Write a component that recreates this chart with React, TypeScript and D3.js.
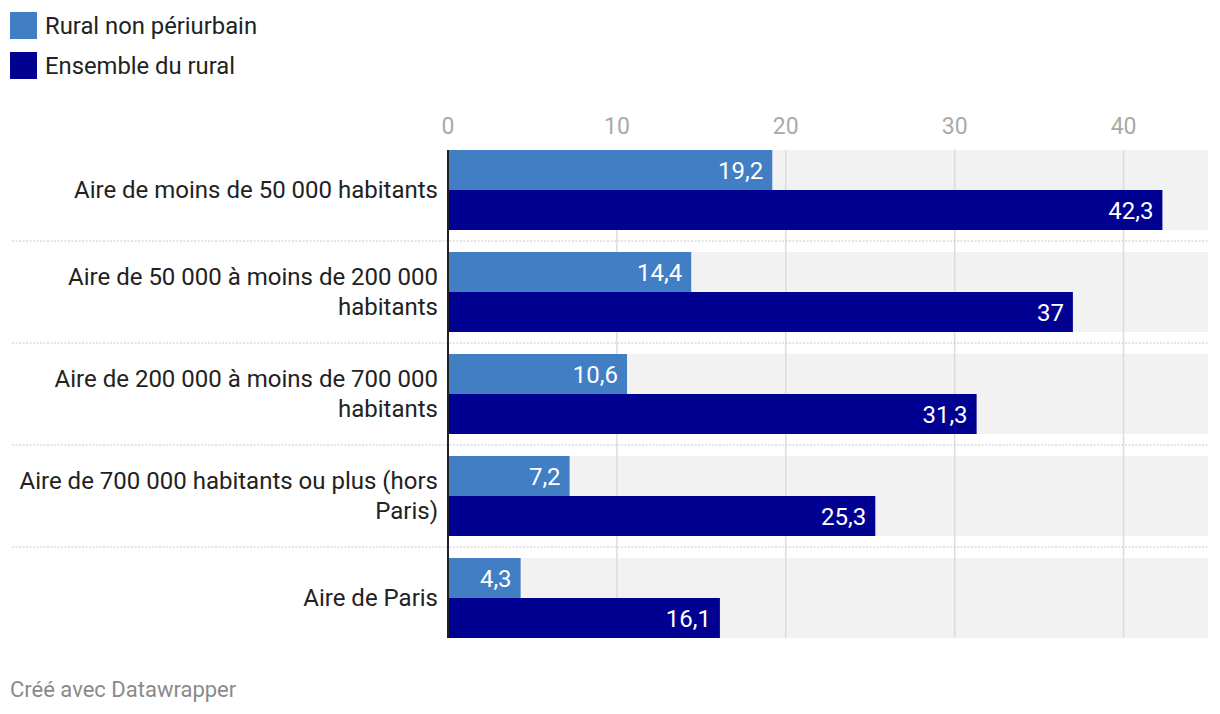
import React from "react";
import * as d3 from "d3";

const categories = [
  "Aire de moins de 50 000 habitants",
  "Aire de 50 000 à moins de 200 000\nhabitants",
  "Aire de 200 000 à moins de 700 000\nhabitants",
  "Aire de 700 000 habitants ou plus (hors\nParis)",
  "Aire de Paris",
];
const seriesNames = ["Rural non périurbain", "Ensemble du rural"];
const ruralNonPeriurbain = [19.2, 14.4, 10.6, 7.2, 4.3];
const ensembleRural = [42.3, 37, 31.3, 25.3, 16.1];
const ticks = [0, 10, 20, 30, 40];
const colors = ["#417ec4", "#000091"];

const W = 1220;
const H = 714;
const FONT = "Roboto, 'Noto Sans', sans-serif";

export default function App() {
  const x = d3.scaleLinear().domain([0, 45]).range([448, 1208]);
  const rowY = (i: number) => 150 + i * 102;
  const bandH = 80;
  const sub = d3.scaleBand<number>().domain([0, 1]).range([0, bandH]);
  const series = [ruralNonPeriurbain, ensembleRural];
  const fmt = (v: number) => d3.format(",")(v).replace(".", ",");
  const top = rowY(0);
  const bottom = rowY(categories.length - 1) + bandH;

  return (
    <svg width={W} height={H} style={{ display: "block", position: "absolute", left: 0, top: 0 }} fontFamily={FONT}>
      <rect width={W} height={H} fill="#fff" />
      {/* legend */}
      {seriesNames.map((n, i) => (
        <g key={n}>
          <rect x={10} y={12 + i * 40} width={27} height={27} fill={colors[i]} />
          <text x={45} y={34 + i * 40} fontSize={23.8} fill="#222">{n}</text>
        </g>
      ))}
      {/* backgrounds */}
      {categories.map((c, i) => (
        <rect key={"bg" + i} x={x(0)} y={rowY(i)} width={x(45) - x(0)} height={bandH} fill="#f2f2f2" />
      ))}
      {/* grid */}
      {ticks.filter((t) => t > 0).map((t) => (
        <line key={"g" + t} x1={x(t)} x2={x(t)} y1={top} y2={bottom} stroke="#dcdcdc" strokeWidth={1.5} />
      ))}
      {/* tick labels */}
      {ticks.map((t) => (
        <text key={"t" + t} x={x(t)} y={134} fontSize={23} fill="#aaaaaa" textAnchor="middle">{t}</text>
      ))}
      {/* separators */}
      {categories.slice(1).map((c, i) => (
        <line key={"s" + i} x1={12} x2={1208} y1={rowY(i + 1) - 11} y2={rowY(i + 1) - 11} stroke="#c8c8c8" strokeWidth={1} strokeDasharray="2,1.5" />
      ))}
      {/* bars */}
      {categories.map((c, i) => (
        <g key={"b" + i}>
          {series.map((s, j) => {
            const y0 = rowY(i) + (sub(j) as number);
            const h = sub.bandwidth();
            return (
              <g key={j}>
                <rect x={x(0)} y={y0} width={x(s[i]) - x(0)} height={h} fill={colors[j]} />
                <text x={x(s[i]) - 9} y={y0 + h / 2 + 8.5} fontSize={24} fill="#fff" textAnchor="end">{fmt(s[i])}</text>
              </g>
            );
          })}
        </g>
      ))}
      {/* category labels */}
      {categories.map((c, i) => {
        const lines = c.split("\n");
        const cy = rowY(i) + bandH / 2;
        const lh = 30;
        const start = cy + 8 - ((lines.length - 1) * lh) / 2;
        return (
          <text key={"c" + i} x={438} fontSize={24} fill="#222" textAnchor="end">
            {lines.map((l, k) => (
              <tspan key={k} x={438} y={start + k * lh}>{l}</tspan>
            ))}
          </text>
        );
      })}
      {/* baseline */}
      <line x1={x(0)} x2={x(0)} y1={top} y2={bottom} stroke="#222" strokeWidth={2} />
      {/* footer */}
      <text x={10} y={697} fontSize={22} fill="#8a8a8a">Créé avec Datawrapper</text>
    </svg>
  );
}
